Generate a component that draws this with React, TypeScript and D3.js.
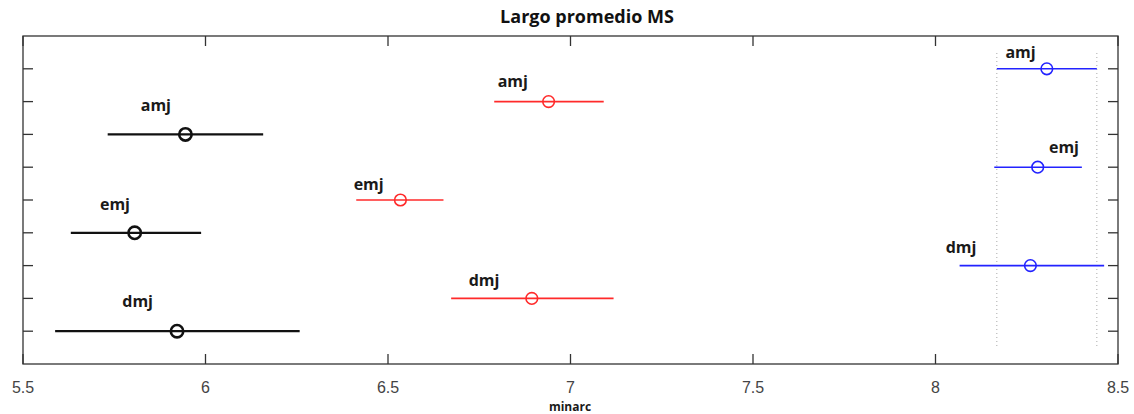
import * as React from 'react';
import * as d3 from 'd3';

// groups, bottom row first (row 1 .. row 9)
const rowLabels = ['dmj', 'dmj', 'dmj', 'emj', 'emj', 'emj', 'amj', 'amj', 'amj'];
const rowSeries = ['black', 'red', 'blue', 'black', 'red', 'blue', 'black', 'red', 'blue'];
const means = [5.922, 6.894, 8.26, 5.806, 6.534, 8.28, 5.945, 6.94, 8.305];
const lower = [5.588, 6.673, 8.066, 5.631, 6.413, 8.161, 5.732, 6.791, 8.168];
const upper = [6.258, 7.118, 8.462, 5.988, 6.652, 8.401, 6.158, 7.091, 8.442];
// where the hand-placed labels sit (in minarc units) and how far above the row (px)
const labelAt = [5.814, 6.763, 8.07, 5.752, 6.447, 8.352, 5.864, 6.842, 8.233];
const labelRise = [24, 12, 13, 23, 10, 14, 23, 15, 11];

const xTicks = [5.5, 6, 6.5, 7, 7.5, 8, 8.5];
const yTicks = [1, 2, 3, 4, 5, 6, 7, 8, 9];
const title = 'Largo promedio MS';
const xTitle = 'minarc';

const colors: { [k: string]: string } = { black: '#111111', red: '#ff2a2a', blue: '#2323ff' };

const W = 1134;
const H = 414;
const margin = { top: 36, right: 16, bottom: 50, left: 23 };

export default function App() {
    const x = d3.scaleLinear().domain([5.5, 8.5]).range([margin.left, W - margin.right]);
    const y = d3.scaleLinear().domain([0, 10]).range([H - margin.bottom, margin.top]);
    const x0 = x.range()[0];
    const x1 = x.range()[1];
    const yTop = y.range()[1];
    const yBot = y.range()[0];
    const axisColor = '#333';

    // dotted reference lines at the top group's interval bounds
    const refLines = [lower[8], upper[8]];

    return (
        <svg width={W} height={H} style={{ position: 'absolute', left: 0, top: 0, background: '#fff' }}>
            <text x={587} y={23} textAnchor="middle" fontFamily="Open Sans" fontWeight="bold" fontSize={18} fill="#111">
                {title}
            </text>

            {refLines.map((v, i) => (
                <line key={'ref' + i} x1={x(v)} x2={x(v)} y1={53} y2={348}
                    stroke="#aaa" strokeWidth={1} strokeDasharray="1,3" />
            ))}

            {means.map((m, i) => {
                const c = colors[rowSeries[i]];
                const isBlack = rowSeries[i] === 'black';
                const cy = y(i + 1);
                return (
                    <g key={'row' + i}>
                        <line x1={x(lower[i])} x2={x(upper[i])} y1={cy} y2={cy}
                            stroke={c} strokeWidth={isBlack ? 2.2 : 1.6} />
                        <circle cx={x(m)} cy={cy} r={isBlack ? 6.2 : 5.8} fill="none"
                            stroke={c} strokeWidth={isBlack ? 2.6 : 1.6} />
                        <text x={x(labelAt[i])} y={cy - labelRise[i]} textAnchor="middle"
                            fontFamily="Open Sans" fontWeight="bold" fontSize={16} fill="#1a1a1a">
                            {rowLabels[i]}
                        </text>
                    </g>
                );
            })}

            {/* axes box */}
            <rect x={x0} y={yTop} width={x1 - x0} height={yBot - yTop} fill="none" stroke={axisColor} strokeWidth={1.3} />
            {xTicks.map((t) => (
                <g key={'xt' + t}>
                    <line x1={x(t)} x2={x(t)} y1={yBot} y2={yBot - 10} stroke={axisColor} strokeWidth={1.3} />
                    <line x1={x(t)} x2={x(t)} y1={yTop} y2={yTop + 10} stroke={axisColor} strokeWidth={1.3} />
                    <text x={x(t)} y={yBot + 29} textAnchor="middle" fontFamily="Liberation Sans" fontSize={16} fill="#444">
                        {String(t)}
                    </text>
                </g>
            ))}
            {yTicks.map((t) => (
                <g key={'yt' + t}>
                    <line x1={x0} x2={x0 + 10} y1={y(t)} y2={y(t)} stroke={axisColor} strokeWidth={1.3} />
                    <line x1={x1} x2={x1 - 10} y1={y(t)} y2={y(t)} stroke={axisColor} strokeWidth={1.3} />
                </g>
            ))}
            <text x={570} y={411} textAnchor="middle" fontFamily="Open Sans" fontWeight="bold" fontSize={12} fill="#1a1a1a">
                {xTitle}
            </text>
        </svg>
    );
}
